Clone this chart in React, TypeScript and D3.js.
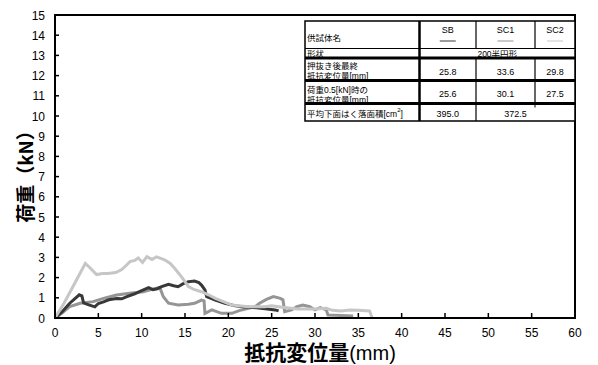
import React from "react";
import * as d3 from "d3";

// Load–displacement records (x: 抵抗変位量 mm, y: 荷重 kN)
const sbCurve: [number, number][] = [
  [0, 0], [0.8, 0.3], [1.7, 0.73], [2.4, 1.0], [2.8, 1.15], [3.1, 1.1], [3.3, 0.75],
  [3.9, 0.65], [4.6, 0.55], [5.0, 0.72], [5.6, 0.8], [6.2, 0.9], [7.1, 0.97], [7.7, 0.95],
  [8.3, 1.06], [9.2, 1.2], [10.0, 1.35], [10.8, 1.5], [11.3, 1.4], [11.8, 1.45], [12.3, 1.55],
  [13.1, 1.67], [13.7, 1.6], [14.2, 1.55], [14.8, 1.7], [15.4, 1.8], [16.1, 1.83], [16.6, 1.75],
  [16.9, 1.63], [17.3, 1.39], [17.5, 1.06], [18.5, 0.89], [19.6, 0.73], [20.8, 0.6], [22.0, 0.55],
  [23.5, 0.5], [24.5, 0.45], [25.4, 0.4], [25.8, 0.35],
];

const sc1Curve: [number, number][] = [
  [0, 0], [0.8, 0.25], [1.7, 0.56], [2.9, 0.73], [4.4, 0.81], [5.6, 0.97], [7.1, 1.14],
  [8.6, 1.22], [10.2, 1.3], [11.0, 1.4], [11.7, 1.47], [12.1, 1.5], [12.5, 1.05], [13.1, 0.73],
  [14.2, 0.64], [15.4, 0.68], [16.1, 0.73], [16.9, 0.89], [17.2, 0.85], [17.3, 0.23], [18.1, 0.4],
  [19.2, 0.23], [20.4, 0.23], [21.5, 0.4], [23.1, 0.56], [23.6, 0.73], [24.4, 0.92], [25.2, 1.06],
  [26.0, 0.97], [26.3, 0.9], [26.5, 0.31], [27.3, 0.4], [27.9, 0.56], [28.6, 0.64], [29.4, 0.56],
  [30.0, 0.4], [30.6, 0.51], [31.3, 0.4], [31.5, 0.15], [33.0, 0.12], [34.4, 0.1],
];

const sc2Curve: [number, number][] = [
  [0, 0], [1.0, 0.7], [2.0, 1.5], [3.0, 2.3], [3.5, 2.7], [4.0, 2.5], [4.8, 2.15], [5.5, 2.2],
  [6.1, 2.2], [7.0, 2.25], [7.7, 2.4], [8.2, 2.6], [8.65, 2.79], [9.2, 2.85], [9.6, 2.97],
  [10.1, 2.75], [10.6, 3.04], [11.2, 2.9], [11.7, 3.03], [12.2, 2.95], [12.7, 2.87], [13.3, 2.7],
  [13.8, 2.46], [14.6, 2.04], [15.4, 1.55], [16.1, 1.4], [16.9, 1.3], [17.7, 1.15], [18.5, 0.97],
  [19.5, 0.8], [20.4, 0.64], [22.3, 0.56], [24.2, 0.56], [25.0, 0.6], [26.0, 0.55], [27.0, 0.5],
  [28.0, 0.45], [29.0, 0.45], [30.0, 0.45], [31.3, 0.48], [32.0, 0.38], [33.0, 0.35], [34.0, 0.4],
  [35.0, 0.38], [36.3, 0.35], [36.6, 0],
];

const xTicks = [0, 5, 10, 15, 20, 25, 30, 35, 40, 45, 50, 55, 60];
const yTicks = [0, 1, 2, 3, 4, 5, 6, 7, 8, 9, 10, 11, 12, 13, 14, 15];

// Summary table contents
const specimens = ["SB", "SC1", "SC2"];
const specimenColors = ["#383838", "#959595", "#c6c6c6"];
const shapeName = "200半円形";
const finalDisp = ["25.8", "33.6", "29.8"];
const dispAtHalfKN = ["25.6", "30.1", "27.5"];
const spallArea = ["395.0", "372.5"];

const W = 598;
const H = 365;
const left = 55;
const right = 575;
const top = 15;
const bottom = 318;

export default function App() {
  const x = d3.scaleLinear().domain([0, 60]).range([left, right]);
  const y = d3.scaleLinear().domain([0, 15]).range([bottom, top]);
  const line = d3
    .line<[number, number]>()
    .x((d) => x(d[0]))
    .y((d) => y(d[1]));

  const series = [
    { data: sc1Curve, color: specimenColors[1] },
    { data: sbCurve, color: specimenColors[0] },
    { data: sc2Curve, color: specimenColors[2] },
  ];

  const font = "'Liberation Sans', Arial, 'Noto Sans CJK JP', sans-serif";
  const cjk = "'Noto Sans CJK JP', 'Liberation Sans', sans-serif";

  // table geometry
  const tL = 305, tR = 575, tT = 21, tB = 121;
  const c1 = 419.5, c2 = 476, c3 = 535;
  const rHead = 48.5, rShape = 58, rFinal = 80.5, rHalf = 103.5;
  const colCenters = [(c1 + c2) / 2, (c2 + c3) / 2, (c3 + tR) / 2];

  return (
    <svg
      width={W}
      height={H}
      style={{ position: "absolute", left: 0, top: 0, background: "#fff" }}
    >
      <rect x={0} y={0} width={W} height={H} fill="#fff" />

      {/* curves */}
      {series.map((s, i) => (
        <path
          key={i}
          d={line(s.data) || ""}
          fill="none"
          stroke={s.color}
          strokeWidth={3}
          strokeLinejoin="miter"
        />
      ))}

      {/* frame */}
      <rect
        x={left}
        y={top}
        width={right - left}
        height={bottom - top}
        fill="none"
        stroke="#000"
        strokeWidth={2}
      />

      {/* y ticks */}
      {yTicks.map((t) => (
        <g key={"y" + t}>
          <line x1={left} x2={left + 4} y1={y(t)} y2={y(t)} stroke="#000" strokeWidth={1.5} />
          <text
            x={45}
            y={y(t) + 4.5}
            textAnchor="end"
            fontFamily={font}
            fontSize={12}
            fill="#000"
          >
            {t}
          </text>
        </g>
      ))}

      {/* x ticks */}
      {xTicks.map((t) => (
        <g key={"x" + t}>
          <line x1={x(t)} x2={x(t)} y1={bottom} y2={bottom - 5} stroke="#000" strokeWidth={1.5} />
          <text
            x={x(t)}
            y={337}
            textAnchor="middle"
            fontFamily={font}
            fontSize={12}
            fill="#000"
          >
            {t}
          </text>
        </g>
      ))}

      {/* axis titles */}
      <text x={320} y={360} textAnchor="middle" fill="#000" fontFamily={font}>
        <tspan fontWeight="bold" fontSize={21}>
          抵抗変位量
        </tspan>
        <tspan fontSize={20}>(mm)</tspan>
      </text>
      <text
        transform="translate(33,172) rotate(-90)"
        textAnchor="middle"
        fontFamily={cjk}
        fontWeight="bold"
        fontSize={19}
        fill="#000"
      >
        荷重（kN）
      </text>

      {/* summary table */}
      <g>
        <rect x={tL} y={tT} width={tR - tL} height={tB - tT} fill="#fff" />
        <g fontFamily={font} fontSize={8.5} fill="#000">
          <text x={307} y={41}>供試体名</text>
          <text x={307} y={57}>形状</text>
          <text x={307} y={69}>押抜き後最終</text>
          <text x={307} y={78.8}>抵抗変位量[mm]</text>
          <text x={307} y={93}>荷重0.5[kN]時の</text>
          <text x={307} y={102.8}>抵抗変位量[mm]</text>
          <text x={307} y={117}>
            平均下面はく落面積[cm
            <tspan dy={-5} fontSize={6}>2</tspan>
            <tspan dy={5}>]</tspan>
          </text>
          <text x={(c1 + tR) / 2} y={57} textAnchor="middle">{shapeName}</text>
        </g>
        <g fontFamily={font} fontSize={9} fill="#000" textAnchor="middle">
          {specimens.map((s, i) => (
            <g key={s}>
              <text x={colCenters[i]} y={33}>{s}</text>
              <line
                x1={colCenters[i] - 8}
                x2={colCenters[i] + 8}
                y1={41}
                y2={41}
                stroke={specimenColors[i]}
                strokeWidth={1}
              />
              <text x={colCenters[i]} y={75}>{finalDisp[i]}</text>
              <text x={colCenters[i]} y={97}>{dispAtHalfKN[i]}</text>
            </g>
          ))}
          <text x={colCenters[0]} y={117}>{spallArea[0]}</text>
          <text x={(c2 + tR) / 2 - 10} y={117}>{spallArea[1]}</text>
        </g>
        {/* grid lines */}
        <rect
          x={tL}
          y={tT}
          width={tR - tL}
          height={tB - tT}
          fill="none"
          stroke="#000"
          strokeWidth={1.5}
        />
        <line x1={tL} x2={tR} y1={rHead} y2={rHead} stroke="#000" strokeWidth={1} />
        <line x1={tL} x2={tR} y1={rShape} y2={rShape} stroke="#000" strokeWidth={3} />
        <line x1={tL} x2={tR} y1={rFinal} y2={rFinal} stroke="#000" strokeWidth={3} />
        <line x1={tL} x2={tR} y1={rHalf} y2={rHalf} stroke="#000" strokeWidth={3} />
        <line x1={c1} x2={c1} y1={tT} y2={tB} stroke="#000" strokeWidth={2.5} />
        <line x1={c2} x2={c2} y1={tT} y2={rHead} stroke="#000" strokeWidth={1.2} />
        <line x1={c3} x2={c3} y1={tT} y2={rHead} stroke="#000" strokeWidth={1.2} />
        <line x1={c2} x2={c2} y1={rShape} y2={tB} stroke="#000" strokeWidth={1.2} />
        <line x1={c3} x2={c3} y1={rShape} y2={rHalf} stroke="#000" strokeWidth={1.2} />
        <line x1={c3} x2={c3} y1={rHalf} y2={rHalf + 4} stroke="#000" strokeWidth={1} />
      </g>
    </svg>
  );
}
